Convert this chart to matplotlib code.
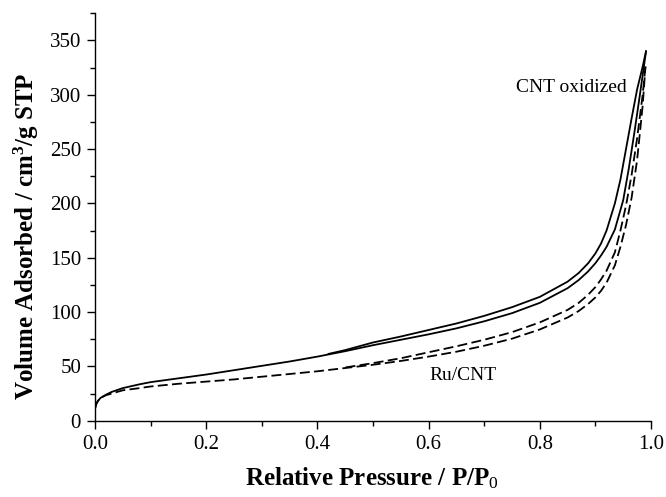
import matplotlib
matplotlib.use("Agg")
import matplotlib.pyplot as plt
from matplotlib.ticker import MultipleLocator, FormatStrFormatter

plt.rcParams['font.family'] = ['Liberation Serif', 'DejaVu Serif']
plt.rcParams['mathtext.fontset'] = 'custom'
plt.rcParams['mathtext.rm'] = 'Liberation Serif'
plt.rcParams['mathtext.bf'] = 'Liberation Serif:bold'
plt.rcParams['mathtext.it'] = 'Liberation Serif:italic'

# CNT oxidized - adsorption branch (lower solid)
cnt_ads_p = [0, 0.002, 0.005, 0.01, 0.02, 0.03, 0.05, 0.08, 0.1, 0.15, 0.2, 0.25, 0.3, 0.35, 0.4,
             0.45, 0.5, 0.55, 0.6, 0.65, 0.7, 0.75, 0.8, 0.85, 0.87, 0.887, 0.9, 0.91, 0.92, 0.935,
             0.95, 0.96, 0.97, 0.98, 0.991]
cnt_ads_v = [11, 15, 18, 21, 24, 26.5, 30, 33.5, 35.5, 39, 42.5, 46.5, 50.5, 54.5, 59,
             64, 69.5, 74.5, 79.5, 85, 91.5, 99, 108.5, 122, 129.5, 137.5, 145, 152, 160, 176,
             203, 232, 265, 300, 340]
# CNT oxidized - desorption branch (upper solid)
cnt_des_p = [0.991, 0.985, 0.975, 0.965, 0.955, 0.945, 0.935, 0.92, 0.91, 0.9, 0.887, 0.87,
             0.85, 0.8, 0.75, 0.7, 0.65, 0.6, 0.55, 0.5, 0.45, 0.42]
cnt_des_v = [340, 326, 305, 278, 250, 222, 200, 175, 163, 154, 145, 136,
             128, 114, 104.5, 96.5, 89.5, 83.5, 77.5, 72, 65, 61.5]
# Ru/CNT - adsorption branch (lower dashed)
ru_ads_p = [0, 0.002, 0.005, 0.01, 0.02, 0.03, 0.05, 0.08, 0.1, 0.15, 0.2, 0.25, 0.3, 0.35, 0.4,
            0.45, 0.5, 0.55, 0.6, 0.65, 0.7, 0.75, 0.8, 0.85, 0.87, 0.887, 0.9, 0.91, 0.92, 0.935,
            0.945, 0.955, 0.965, 0.975, 0.985, 0.99]
ru_ads_v = [11, 15, 18, 21, 23.5, 25, 28, 30, 31.5, 34, 36, 38, 40.5, 43, 45.5,
            48.5, 51.5, 55, 59, 63.5, 69, 75.5, 84, 95, 101, 107.5, 113.5, 119.5, 127, 143,
            160, 180, 205, 240, 290, 326]
# Ru/CNT - desorption branch (upper dashed)
ru_des_p = [0.99, 0.985, 0.975, 0.965, 0.955, 0.945, 0.935, 0.92, 0.91, 0.9, 0.887, 0.87,
            0.85, 0.8, 0.75, 0.7, 0.65, 0.6, 0.55, 0.5, 0.45]
ru_des_v = [326, 300, 260, 226, 198, 175, 155, 138, 130, 123, 116, 108.5,
            102, 90.5, 81.5, 74.5, 68.5, 63, 57.5, 53, 49]

fig = plt.figure(figsize=(6.66, 4.97), dpi=100)
ax = fig.add_axes([0.1426, 0.1535, 0.8349, 0.8197])

lw = 1.3
ax.plot(cnt_ads_p, cnt_ads_v, color='black', lw=lw)
ax.plot(cnt_des_p, cnt_des_v, color='black', lw=lw)
ax.plot(ru_ads_p, ru_ads_v, color='black', lw=lw, dashes=(5.5, 2.4))
ax.plot(ru_des_p, ru_des_v, color='black', lw=lw, dashes=(5.5, 2.4))

ax.set_xlim(0, 1.0)
ax.set_ylim(0, 375)
ax.spines['top'].set_visible(False)
ax.spines['right'].set_visible(False)
for s in ('left', 'bottom'):
    ax.spines[s].set_linewidth(1.0)

ax.xaxis.set_major_locator(MultipleLocator(0.2))
ax.xaxis.set_minor_locator(MultipleLocator(0.1))
ax.yaxis.set_major_locator(MultipleLocator(50))
ax.yaxis.set_minor_locator(MultipleLocator(25))
ax.xaxis.set_major_formatter(FormatStrFormatter('%.1f'))
ax.tick_params(which='major', direction='out', length=6, width=1.0, labelsize=15, pad=4)
ax.tick_params(which='minor', direction='out', length=3.5, width=1.0)

ax.text(0.957, 307, 'CNT oxidized', fontsize=14, ha='right', va='center')
ax.text(0.662, 42, 'Ru/CNT', fontsize=14, ha='center', va='center')

ax.set_xlabel(r'Relative Pressure / P/P$_{\mathrm{0}}$', fontsize=18, fontweight='bold')
ax.set_ylabel(r'Volume Adsorbed / cm$^{\mathbf{3}}$/g STP', fontsize=18, fontweight='bold')
ax.xaxis.set_label_coords(0.498, -0.14)
ax.yaxis.set_label_coords(-0.124, 0.453)
ax.xaxis.label.set_va('center')
ax.yaxis.label.set_va('center')

fig.savefig('out.png', dpi=100)
